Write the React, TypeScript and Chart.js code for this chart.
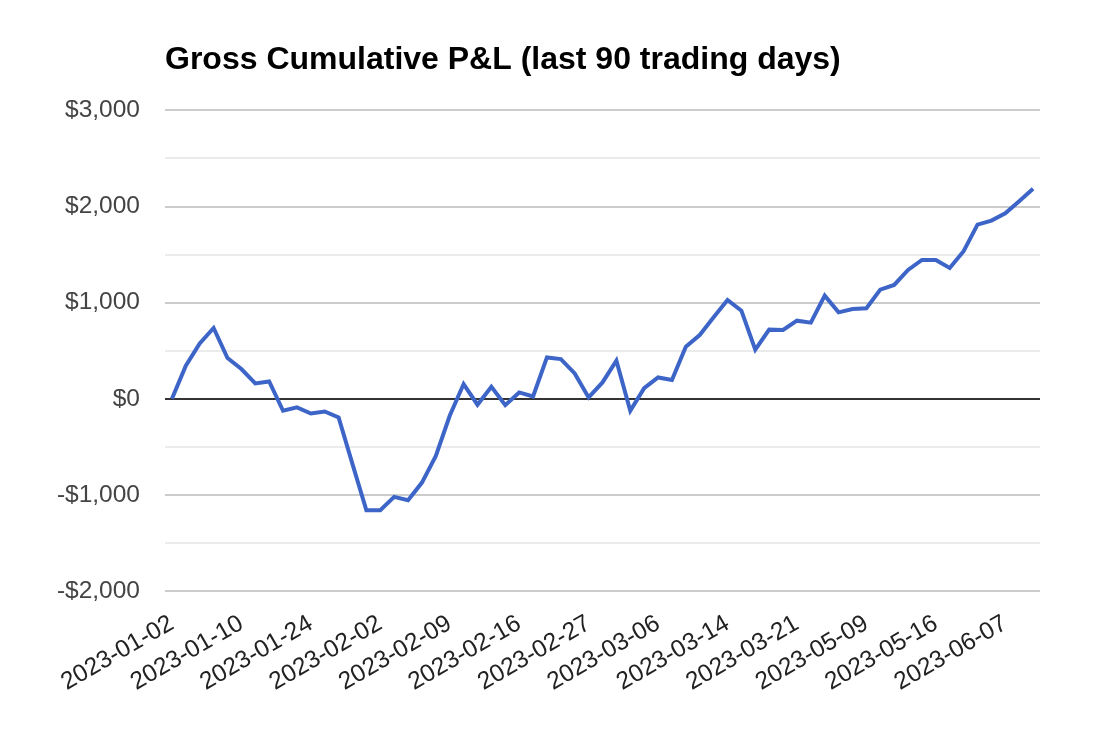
import { useEffect, useRef } from 'react';
import { Chart, registerables } from 'chart.js';

Chart.register(...registerables);

const dates = [
  '2023-01-02', '2023-01-03', '2023-01-04', '2023-01-05', '2023-01-06',
  '2023-01-10', '2023-01-11', '2023-01-12', '2023-01-17', '2023-01-19',
  '2023-01-24', '2023-01-25', '2023-01-26', '2023-01-27', '2023-01-31',
  '2023-02-02', '2023-02-03', '2023-02-06', '2023-02-07', '2023-02-08',
  '2023-02-09', '2023-02-10', '2023-02-13', '2023-02-14', '2023-02-15',
  '2023-02-16', '2023-02-17', '2023-02-21', '2023-02-22', '2023-02-23',
  '2023-02-27', '2023-02-28', '2023-03-01', '2023-03-02', '2023-03-03',
  '2023-03-06', '2023-03-07', '2023-03-08', '2023-03-09', '2023-03-13',
  '2023-03-14', '2023-03-15', '2023-03-16', '2023-03-17', '2023-03-20',
  '2023-03-21', '2023-03-22', '2023-04-11', '2023-04-25', '2023-05-02',
  '2023-05-09', '2023-05-10', '2023-05-11', '2023-05-12', '2023-05-15',
  '2023-05-16', '2023-05-17', '2023-05-22', '2023-05-30', '2023-06-01',
  '2023-06-07', '2023-06-08', '2023-06-09',
];

const pnl = [
  0, 344, 576, 736, 424, 309, 160, 180, -125, -90,
  -153, -132, -194, -680, -1160, -1160, -1021, -1056, -872, -594,
  -177, 153, -62, 125, -66, 66, 24, 430, 413, 264,
  14, 170, 396, -125, 111, 222, 195, 542, 663, 847,
  1028, 917, 510, 719, 715, 812, 792, 1073, 899, 934,
  941, 1135, 1184, 1340, 1444, 1444, 1361, 1535, 1812, 1854,
  1930, 2055, 2184,
];

const fmt = (v: number) => (v < 0 ? '-$' : '$') + Math.abs(v).toLocaleString('en-US');

export default function App() {
  const canvasRef = useRef<HTMLCanvasElement>(null);

  useEffect(() => {
    document.body.style.margin = '0';
    if (!canvasRef.current) return;

    const chart = new Chart(canvasRef.current, {
      type: 'line',
      data: {
        labels: dates,
        datasets: [
          {
            label: 'Gross Cumulative P&L',
            data: pnl,
            borderColor: '#3d65c8',
            borderWidth: 4,
            pointRadius: 0,
            tension: 0,
            fill: false,
          },
        ],
      },
      options: {
        animation: false,
        responsive: true,
        maintainAspectRatio: false,
        layout: { padding: { left: 0, right: 66, top: 0, bottom: 0 } },
        plugins: {
          legend: { display: false },
          tooltip: { enabled: false },
          title: {
            display: true,
            text: 'Gross Cumulative P&L (last 90 trading days)',
            align: 'start',
            fullSize: false,
            color: '#000',
            font: { family: 'Liberation Sans, Arial', size: 32, weight: 'bold' },
            padding: { top: 41, bottom: 31 },
          },
        },
        scales: {
          x: {
            offset: true,
            grid: { display: false },
            border: { display: false },
            ticks: {
              autoSkip: false,
              maxRotation: 30,
              minRotation: 30,
              padding: 10,
              color: '#222',
              font: { family: 'Liberation Sans, Arial', size: 24.5 },
              callback: (_v: any, i: number) => (i % 5 === 0 ? dates[i] : ''),
            },
            afterFit: (s: any) => {
              s.height = 141;
            },
          },
          y: {
            min: -2000,
            max: 3000,
            border: { display: false },
            grid: {
              drawTicks: false,
              lineWidth: 2,
              color: (c: any) => {
                const v = c.tick ? c.tick.value : 1;
                if (v === 0) return '#333333';
                return v % 1000 === 0 ? '#cccccc' : '#ebebeb';
              },
            },
            ticks: {
              stepSize: 500,
              padding: 25,
              color: '#444',
              font: { family: 'Liberation Sans, Arial', size: 24.5 },
              callback: (v: any) => (Number(v) % 1000 === 0 ? fmt(Number(v)) : ''),
            },
            afterFit: (s: any) => {
              s.width = 165;
            },
          },
        },
      },
    });

    return () => {
      chart.destroy();
    };
  }, []);

  return (
    <div style={{ width: 1106, height: 732, position: 'relative', background: '#fff' }}>
      <canvas ref={canvasRef} />
    </div>
  );
}
